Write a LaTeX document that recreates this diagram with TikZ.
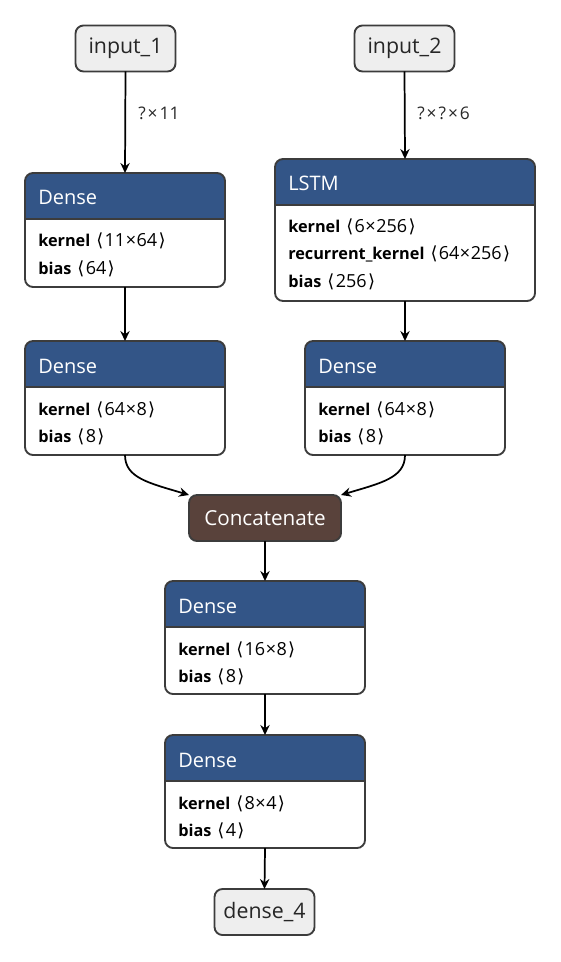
\documentclass[tikz,border=0pt]{standalone}
\usepackage{fontspec}
\setmainfont{Open Sans}
\newfontfamily\symf{DejaVu Sans}
\usetikzlibrary{fit,calc,arrows.meta}
\definecolor{hdr}{RGB}{51,85,135}
\definecolor{cat}{RGB}{89,66,59}
\definecolor{bord}{RGB}{60,60,60}
\definecolor{infill}{RGB}{238,238,238}
\definecolor{lblcol}{RGB}{40,40,40}
\newcommand\dims[1]{{\fontsize{13.5}{16}\selectfont\hspace{4.5pt}{\symf ⟨}\hspace{1pt}#1\hspace{1pt}{\symf ⟩}}}
\newcommand\tms{\hspace{0.4pt}×\hspace{0.4pt}}
\newcommand\ltms{\hspace{1.5pt}×\hspace{1.5pt}}
\tikzset{
  x=0.75pt, y=-0.75pt,
  frame/.style={inner sep=0pt, outer sep=0pt},
  boxline/.style={draw=bord, line width=1.4pt, rounded corners=6pt},
  titletext/.style={anchor=base west, inner sep=0pt, text=white, font=\fontsize{15}{18}\selectfont},
  rowtext/.style={anchor=base west, inner sep=0pt, font=\fontsize{12.2}{14}\selectfont},
  lbl/.style={anchor=base west, inner sep=0pt, text=lblcol, font=\fontsize{13}{15}\selectfont},
  iobox/.style={draw=bord, line width=1.4pt, fill=infill, rounded corners=6pt, inner sep=0pt, outer sep=0pt,
    minimum width=75pt, minimum height=34.5pt, text=black!85, font=\fontsize{16}{18}\selectfont},
  catbox/.style={draw=bord, line width=1.4pt, fill=cat, rounded corners=6pt, inner sep=0pt, outer sep=0pt,
    minimum width=114pt, minimum height=34.5pt, text=white, font=\fontsize{15.5}{18}\selectfont},
  conn/.style={line width=1.3pt, -{Stealth[length=7.5pt,width=7pt,inset=2.5pt]}},
}
\newcommand\layerbox[6]{%
  \coordinate (#1-a) at (#2,#3);
  \coordinate (#1-b) at (#4,#5);
  \node[frame, fit=(#1-a)(#1-b)] (#1) {};
  \begin{scope}
    \clip[rounded corners=6pt] (#1.north west) rectangle (#1.south east);
    \fill[white] (#1.north west) rectangle (#1.south east);
    \fill[hdr] (#1.north west) rectangle ($(#1.north east)+(0,46)$);
    \draw[bord, line width=1pt] ($(#1.north west)+(0,46)$) -- ($(#1.north east)+(0,46)$);
  \end{scope}
  \draw[boxline] (#1.north west) rectangle (#1.south east);
  \node[titletext] (#1-title) at ($(#1.north west)+(13,32)$) {#6};
}
\begin{document}
\begin{tikzpicture}
\useasboundingbox (0,0) rectangle (560,962);

% inputs
\node[iobox] (in1) at (125.5,48.5) {input\_1};
\node[iobox] (in2) at (404.5,48.5) {input\_2};

% left column
\layerbox{d1}{25}{173}{225}{287}{Dense}
\node[rowtext] (d1-r1) at ($(d1.north west)+(13,74)$) {\textbf{kernel}\dims{11\tms64}};
\node[rowtext] (d1-r2) at ($(d1.north west)+(13,101)$) {\textbf{bias}\dims{64}};

\layerbox{d2}{25}{341}{225}{455}{Dense}
\node[rowtext] (d2-r1) at ($(d2.north west)+(13,74)$) {\textbf{kernel}\dims{64\tms8}};
\node[rowtext] (d2-r2) at ($(d2.north west)+(13,101)$) {\textbf{bias}\dims{8}};

% right column
\layerbox{ls}{275}{159}{535}{301}{LSTM}
\node[rowtext] (ls-r1) at ($(ls.north west)+(13,74)$) {\textbf{kernel}\dims{6\tms256}};
\node[rowtext] (ls-r2) at ($(ls.north west)+(13,101)$) {\textbf{recurrent\_kernel}\dims{64\tms256}};
\node[rowtext] (ls-r3) at ($(ls.north west)+(13,128)$) {\textbf{bias}\dims{256}};

\layerbox{dr}{305}{341}{505}{455}{Dense}
\node[rowtext] (dr-r1) at ($(dr.north west)+(13,74)$) {\textbf{kernel}\dims{64\tms8}};
\node[rowtext] (dr-r2) at ($(dr.north west)+(13,101)$) {\textbf{bias}\dims{8}};

% concatenate
\node[catbox] (cc) at (265,518) {Concatenate};

\layerbox{d3}{165}{581}{365}{694}{Dense}
\node[rowtext] (d3-r1) at ($(d3.north west)+(13,74)$) {\textbf{kernel}\dims{16\tms8}};
\node[rowtext] (d3-r2) at ($(d3.north west)+(13,101)$) {\textbf{bias}\dims{8}};

\layerbox{d4}{165}{735}{365}{848}{Dense}
\node[rowtext] (d4-r1) at ($(d4.north west)+(13,74)$) {\textbf{kernel}\dims{8\tms4}};
\node[rowtext] (d4-r2) at ($(d4.north west)+(13,101)$) {\textbf{bias}\dims{4}};

\node[iobox] (out) at (264.5,912) {dense\_4};

% connectors
\draw[conn] (in1.south) -- (d1.north);
\node[lbl] (lab1) at (138,120) {?\ltms11};
\draw[conn] (in2.south) -- (ls.north);
\node[lbl] (lab2) at (417,120) {?\ltms?\ltms6};
\draw[conn] (d1.south) -- (d2.north);
\draw[conn] (ls.south) -- (dr.north);
\draw[conn] (d2.south) .. controls +(0,23) and +(-40,-12) .. (cc.north west);
\draw[conn] (dr.south) .. controls +(0,23) and +(40,-12) .. (cc.north east);
\draw[conn] (cc.south) -- (d3.north);
\draw[conn] (d3.south) -- (d4.north);
\draw[conn] (d4.south) -- (out.north);
\end{tikzpicture}
\end{document}
